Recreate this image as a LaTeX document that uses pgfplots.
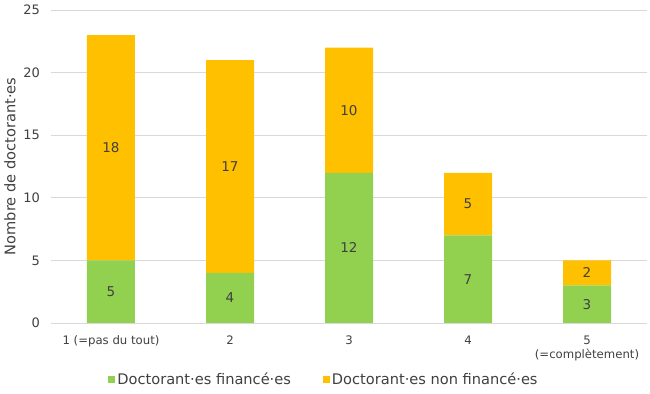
\documentclass[border=0pt]{standalone}
\usepackage{pgfplots}
\pgfplotsset{compat=1.18}
\usepackage{fontspec}
\setmainfont{DejaVu Sans}
\definecolor{cgreen}{HTML}{92D050}
\definecolor{corange}{HTML}{FFC000}
\definecolor{ctext}{HTML}{404040}
\definecolor{cgrid}{HTML}{D9D9D9}
\pgfplotstableread{
x y
0 5
1 4
2 12
3 7
4 3
}\financees
\pgfplotstableread{
x y
0 18
1 17
2 10
3 5
4 2
}\nonfinancees
\begin{document}
\begin{tikzpicture}
\useasboundingbox (-51.5bp,-71bp) rectangle (598.5bp,323bp);
\begin{axis}[
  scale only axis,
  width=595bp, height=313bp,
  ybar stacked,
  bar width=48bp,
  xmin=-0.5, xmax=4.5,
  ymin=0, ymax=25,
  ytick={0,5,10,15,20,25},
  xtick=data,
  xticklabels={1 (=pas du tout),2,3,4,{5\\(=complètement)}},
  xticklabel style={align=center, font=\fontsize{11.7bp}{14bp}\selectfont, text=ctext, anchor=north, yshift=-9bp},
  yticklabel style={font=\fontsize{13bp}{15bp}\selectfont, text=ctext, xshift=-8bp},
  /pgf/number format/assume math mode=true,
  ymajorgrids,
  grid style={cgrid, line width=0.8bp},
  major tick length=0pt,
  axis line style={draw=none},
  axis x line*=bottom,
  axis y line*=left,
  x axis line style={draw=cgrid, line width=0.8bp},
  ylabel={Nombre de doctorant·es},
  every axis y label/.style={at={(rel axis cs:0,0.5)}, xshift=-41.5bp, rotate=90, anchor=center, font=\fontsize{14.6bp}{16bp}\selectfont, text=ctext},
  legend columns=2,
  legend style={draw=none, at={(0.458,-0.179)}, anchor=center, font=\fontsize{14.6bp}{17bp}\selectfont, text=ctext, /tikz/every even column/.append style={column sep=30bp}, /tikz/every odd column/.append style={column sep=0bp}},
  legend image code/.code={\fill[#1] (0bp,-3.5bp) rectangle (7bp,3.5bp);},
  visualization depends on={\thisrow{y} \as \rawy},
  nodes near coords={\pgfmathprintnumber{\rawy}},
  every node near coord/.append style={anchor=center, font=\fontsize{13.5bp}{15bp}\selectfont, text=ctext},
]
\addplot[fill=cgreen, draw=none] table[x=x,y=y] {\financees};
\addplot[fill=corange, draw=none] table[x=x,y=y] {\nonfinancees};
\legend{Doctorant·es financé·es, Doctorant·es non financé·es}
\end{axis}
\end{tikzpicture}
\end{document}
